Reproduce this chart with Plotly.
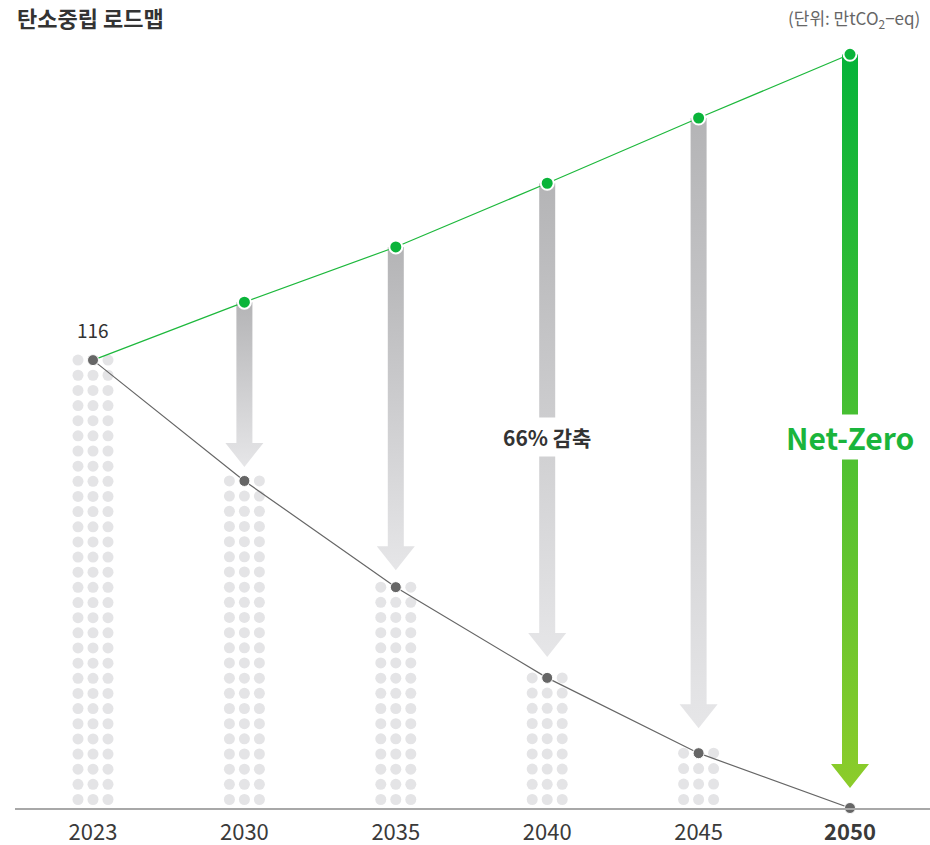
import numpy as np
import plotly.graph_objects as go

# ---------------- data ----------------
years = ["2023", "2030", "2035", "2040", "2045", "2050"]
emissions = [116, 84.7, 57.2, 33.7, 14.2, 0]          # 감축 경로 (gray)
bau = [116, 131, 145.3, 161.8, 178.7, 195.2]          # 추세 (green)
start_label = "116"
reduction_label = "66% 감축"
netzero_label = "Net-Zero"
title_text = "탄소중립 로드맵"
unit_text = "(단위: 만tCO<sub>2</sub>−eq)"

# ---------------- geometry / style ----------------
W, H = 930, 845
ML, MR, MT, MB = 15, 0, 40, H - 808
px_per_x = 151.4
x0_px = 93
xr = [-(x0_px - ML) / px_per_x, -(x0_px - ML) / px_per_x + (W - ML - MR) / px_per_x]
ymax = 198.9
px_per_y = (H - MT - MB) / ymax

def pxx(p):
    return p / px_per_x

def pxy(p):
    return p / px_per_y

x = list(range(len(years)))
fig = go.Figure()

# dot columns
dot_x, dot_y = [], []
bottom = pxy(8.5)
step = pxy(15.2)
for i, v in enumerate(emissions):
    if v <= 0:
        continue
    n = int(round((v - bottom) / step)) + 1
    rows = np.linspace(bottom, v, n)
    for r in rows:
        for off in (-15, 0, 15):
            dot_x.append(i + pxx(off))
            dot_y.append(r)
fig.add_trace(go.Scatter(x=dot_x, y=dot_y, mode="markers",
                         marker=dict(size=11, color="#e4e4e6"),
                         hoverinfo="skip", showlegend=False, cliponaxis=False))

# arrows
arrow_gap_px = [14, 17, 21, 25, 20]
bar_hw = pxx(8)
head_hw = pxx(19)
head_h = pxy(24)
for k, i in enumerate(range(1, len(years))):
    top = bau[i]
    tip = emissions[i] + pxy(arrow_gap_px[k])
    base = tip + head_h
    xs = [i - bar_hw, i + bar_hw, i + bar_hw, i + head_hw, i, i - head_hw, i - bar_hw, i - bar_hw]
    ys = [top, top, base, base, tip, base, base, top]
    if i == len(years) - 1:
        cs = [[0, "#8ccc2a"], [1, "#05b33a"]]
    else:
        cs = [[0, "#e6e6e8"], [1, "#b4b4b6"]]
    fig.add_trace(go.Scatter(x=xs, y=ys, mode="lines", fill="toself",
                             line=dict(width=0),
                             fillgradient=dict(type="vertical", colorscale=cs,
                                               start=tip, stop=top),
                             hoverinfo="skip", showlegend=False))

# lines
fig.add_trace(go.Scatter(x=x, y=bau, mode="lines", line=dict(color="#1db83c", width=1.2),
                         hoverinfo="skip", showlegend=False, cliponaxis=False))
fig.add_trace(go.Scatter(x=x, y=emissions, mode="lines", line=dict(color="#666666", width=1.2),
                         hoverinfo="skip", showlegend=False, cliponaxis=False))
# markers
fig.add_trace(go.Scatter(x=x[1:], y=bau[1:], mode="markers",
                         marker=dict(size=13, color="#0ab43a", line=dict(color="white", width=2)),
                         hoverinfo="skip", showlegend=False, cliponaxis=False))
fig.add_trace(go.Scatter(x=x, y=emissions, mode="markers",
                         marker=dict(size=11, color="#666666", line=dict(color="white", width=1)),
                         hoverinfo="skip", showlegend=False, cliponaxis=False))

label_val = (H - MB - 437) / px_per_y
annotations = [
    dict(x=0, y=emissions[0], xref="x", yref="y", text=start_label, showarrow=False,
         yshift=31, font=dict(size=19, color="#333333")),
    dict(x=3, y=label_val, xref="x", yref="y", text="<b>" + reduction_label + "</b>",
         showarrow=False, bgcolor="white", borderpad=4,
         font=dict(size=21, color="#333333")),
    dict(x=5, y=label_val, xref="x", yref="y", text="<b>" + netzero_label + "</b>",
         showarrow=False, bgcolor="white", borderpad=0,
         font=dict(size=30, color="#1ab53c")),
    dict(x=0, y=1, xref="paper", yref="paper", xanchor="left", yanchor="middle",
         xshift=0, yshift=(MT - 17), text="<b>" + title_text + "</b>", showarrow=False,
         font=dict(size=22, color="#333333")),
    dict(x=1, y=1, xref="paper", yref="paper", xanchor="right", yanchor="middle",
         xshift=-8, yshift=(MT - 18), text=unit_text, showarrow=False,
         font=dict(size=17, color="#666666")),
]

ticktext = years[:-1] + ["<b>" + years[-1] + "</b>"]
fig.update_layout(
    width=W, height=H,
    margin=dict(l=ML, r=MR, t=MT, b=MB),
    paper_bgcolor="white", plot_bgcolor="white",
    font=dict(family="Noto Sans CJK KR, Noto Sans, sans-serif"),
    xaxis=dict(range=xr, tickvals=x, ticktext=ticktext, showgrid=False, zeroline=False,
               showline=True, linecolor="#a8a8a8", linewidth=1.5, ticks="",
               ticklabelstandoff=4,
               tickfont=dict(size=22, color="#3a3a3a"), fixedrange=True),
    yaxis=dict(range=[0, ymax], showgrid=False, zeroline=False, showticklabels=False,
               fixedrange=True),
    annotations=annotations,
    showlegend=False,
)
fig.write_html("out.html", config={"displayModeBar": False},
               post_script="document.body.style.margin='0px';document.body.style.overflow='hidden';")
